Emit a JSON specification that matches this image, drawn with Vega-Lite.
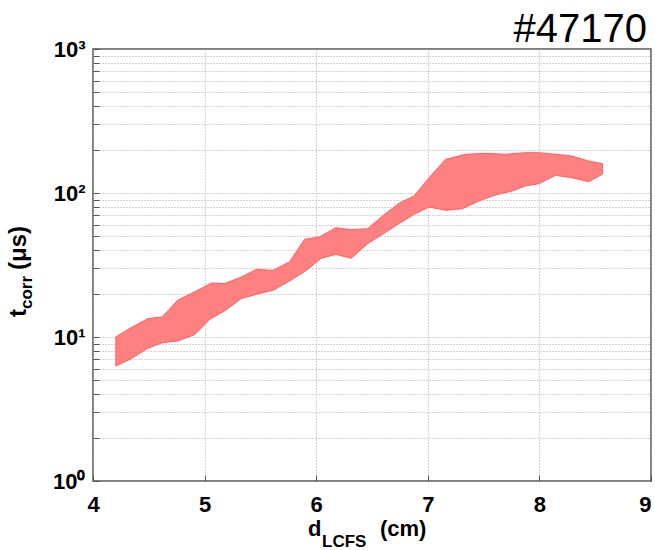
{
  "$schema": "https://vega.github.io/schema/vega-lite/v6.json",
  "width": 558,
  "height": 432,
  "autosize": "none",
  "padding": {"left": 93, "top": 49, "right": 4, "bottom": 69},
  "background": "white",
  "config": {
    "view": {"stroke": "#555555", "strokeWidth": 1.5},
    "font": "Liberation Sans",
    "text": {"font": "Liberation Sans", "color": "#000000"}
  },
  "datasets": {
    "band": [
      {"i": 0, "d": 4.205, "t": 10.0},
      {"i": 1, "d": 4.333, "t": 11.5},
      {"i": 2, "d": 4.491, "t": 13.4},
      {"i": 3, "d": 4.622, "t": 13.8},
      {"i": 4, "d": 4.759, "t": 18.0},
      {"i": 5, "d": 4.913, "t": 20.6},
      {"i": 6, "d": 5.062, "t": 23.7},
      {"i": 7, "d": 5.181, "t": 23.5},
      {"i": 8, "d": 5.33, "t": 26.1},
      {"i": 9, "d": 5.464, "t": 29.5},
      {"i": 10, "d": 5.613, "t": 29.0},
      {"i": 11, "d": 5.762, "t": 33.3},
      {"i": 12, "d": 5.896, "t": 47.7},
      {"i": 13, "d": 6.029, "t": 49.5},
      {"i": 14, "d": 6.176, "t": 57.4},
      {"i": 15, "d": 6.313, "t": 55.6},
      {"i": 16, "d": 6.461, "t": 56.5},
      {"i": 17, "d": 6.595, "t": 69.2},
      {"i": 18, "d": 6.744, "t": 85.0},
      {"i": 19, "d": 6.878, "t": 95.3},
      {"i": 20, "d": 7.012, "t": 127.8},
      {"i": 21, "d": 7.161, "t": 171.4},
      {"i": 22, "d": 7.339, "t": 185.7},
      {"i": 23, "d": 7.518, "t": 188.5},
      {"i": 24, "d": 7.696, "t": 185.7},
      {"i": 25, "d": 7.875, "t": 190.5},
      {"i": 26, "d": 7.994, "t": 190.5},
      {"i": 27, "d": 8.143, "t": 185.7},
      {"i": 28, "d": 8.291, "t": 180.7},
      {"i": 29, "d": 8.44, "t": 166.8},
      {"i": 30, "d": 8.565, "t": 159.9},
      {"i": 31, "d": 8.565, "t": 134.9},
      {"i": 32, "d": 8.44, "t": 119.9},
      {"i": 33, "d": 8.291, "t": 127.8},
      {"i": 34, "d": 8.143, "t": 132.6},
      {"i": 35, "d": 7.994, "t": 116.0},
      {"i": 36, "d": 7.875, "t": 111.9},
      {"i": 37, "d": 7.756, "t": 103.2},
      {"i": 38, "d": 7.607, "t": 96.9},
      {"i": 39, "d": 7.458, "t": 88.0},
      {"i": 40, "d": 7.31, "t": 77.8},
      {"i": 41, "d": 7.161, "t": 75.8},
      {"i": 42, "d": 7.012, "t": 79.9},
      {"i": 43, "d": 6.878, "t": 71.1},
      {"i": 44, "d": 6.744, "t": 61.5},
      {"i": 45, "d": 6.595, "t": 51.7},
      {"i": 46, "d": 6.461, "t": 44.5},
      {"i": 47, "d": 6.313, "t": 35.2},
      {"i": 48, "d": 6.176, "t": 37.5},
      {"i": 49, "d": 6.045, "t": 35.2},
      {"i": 50, "d": 5.911, "t": 29.0},
      {"i": 51, "d": 5.762, "t": 24.5},
      {"i": 52, "d": 5.613, "t": 21.1},
      {"i": 53, "d": 5.464, "t": 19.8},
      {"i": 54, "d": 5.33, "t": 18.5},
      {"i": 55, "d": 5.181, "t": 15.2},
      {"i": 56, "d": 5.048, "t": 13.3},
      {"i": 57, "d": 4.913, "t": 10.4},
      {"i": 58, "d": 4.759, "t": 9.38},
      {"i": 59, "d": 4.622, "t": 9.13},
      {"i": 60, "d": 4.491, "t": 8.35},
      {"i": 61, "d": 4.333, "t": 7.0},
      {"i": 62, "d": 4.205, "t": 6.29},
      {"i": 63, "d": 4.205, "t": 10.0}
    ]
  },
  "layer": [
    {
      "data": {"name": "band"},
      "mark": {"type": "line", "fill": "#ff8080", "stroke": "#ff5c5c", "strokeWidth": 1, "interpolate": "linear"},
      "encoding": {
        "x": {
          "field": "d",
          "type": "quantitative",
          "scale": {"domain": [4, 9], "nice": false, "zero": false},
          "axis": {
            "title": null,
            "values": [4, 5, 6, 7, 8, 9],
            "format": "d",
            "domain": false,
            "grid": true,
            "gridDash": [1, 2],
            "gridColor": "#a8a8a8",
            "gridWidth": 1,
            "tickSize": -6,
            "tickColor": "#555555",
            "tickWidth": 1,
            "labelFont": "Liberation Sans",
            "labelFontSize": 22,
            "labelFontWeight": "bold",
            "labelColor": "#000000",
            "labelPadding": 19,
            "labelFlush": false,
            "labelAlign": {"condition": {"test": "datum.value == 9", "value": "right"}, "value": "center"}
          }
        },
        "y": {
          "field": "t",
          "type": "quantitative",
          "scale": {"type": "log", "domain": [1, 1000], "nice": false},
          "axis": {
            "title": null,
            "values": [1, 2, 3, 4, 5, 6, 7, 8, 9, 10, 20, 30, 40, 50, 60, 70, 80, 90, 100, 200, 300, 400, 500, 600, 700, 800, 900, 1000],
            "labelExpr": "datum.value == 1 ? '10⁰' : datum.value == 10 ? '10¹' : datum.value == 100 ? '10²' : datum.value == 1000 ? '10³' : ''",
            "domain": false,
            "grid": true,
            "gridDash": [1, 2],
            "gridColor": "#a8a8a8",
            "gridWidth": 1,
            "tickSize": -6,
            "tickColor": "#555555",
            "tickWidth": 1,
            "labelFont": "Liberation Sans",
            "labelFontSize": 22,
            "labelFontWeight": "bold",
            "labelColor": "#000000",
            "labelPadding": 14,
            "labelBaseline": "middle",
            "labelFlush": false,
            "labelOverlap": false
          }
        },
        "order": {"field": "i", "type": "quantitative"}
      }
    },
    {
      "data": {"values": [{}]},
      "mark": {"type": "text", "text": "#47170", "align": "right", "baseline": "alphabetic", "fontSize": 40, "fontWeight": "normal", "dx": -4, "dy": -7},
      "encoding": {"x": {"datum": 9, "type": "quantitative"}, "y": {"datum": 1000, "type": "quantitative"}}
    },
    {
      "data": {"values": [{}]},
      "mark": {"type": "text", "text": "d", "align": "left", "baseline": "alphabetic", "fontSize": 22, "fontWeight": "bold", "dx": -64, "dy": 55},
      "encoding": {"x": {"datum": 6.5, "type": "quantitative"}, "y": {"datum": 1, "type": "quantitative"}}
    },
    {
      "data": {"values": [{}]},
      "mark": {"type": "text", "text": "LCFS", "align": "left", "baseline": "alphabetic", "fontSize": 17, "fontWeight": "bold", "dx": -50, "dy": 66},
      "encoding": {"x": {"datum": 6.5, "type": "quantitative"}, "y": {"datum": 1, "type": "quantitative"}}
    },
    {
      "data": {"values": [{}]},
      "mark": {"type": "text", "text": "(cm)", "align": "left", "baseline": "alphabetic", "fontSize": 22, "fontWeight": "bold", "dx": 8, "dy": 55},
      "encoding": {"x": {"datum": 6.5, "type": "quantitative"}, "y": {"datum": 1, "type": "quantitative"}}
    },
    {
      "data": {"values": [{}]},
      "mark": {"type": "text", "text": "t", "angle": 270, "align": "left", "baseline": "alphabetic", "fontSize": 24, "fontWeight": "bold", "dx": 20, "dy": -67},
      "encoding": {"x": {"datum": 4, "type": "quantitative"}, "y": {"datum": 10, "type": "quantitative"}}
    },
    {
      "data": {"values": [{}]},
      "mark": {"type": "text", "text": "corr", "angle": 270, "align": "left", "baseline": "alphabetic", "fontSize": 17, "fontWeight": "bold", "dx": 28, "dy": -61},
      "encoding": {"x": {"datum": 4, "type": "quantitative"}, "y": {"datum": 10, "type": "quantitative"}}
    },
    {
      "data": {"values": [{}]},
      "mark": {"type": "text", "text": "(μs)", "angle": 270, "align": "left", "baseline": "alphabetic", "fontSize": 24, "fontWeight": "bold", "dx": 67, "dy": -67},
      "encoding": {"x": {"datum": 4, "type": "quantitative"}, "y": {"datum": 10, "type": "quantitative"}}
    }
  ]
}
